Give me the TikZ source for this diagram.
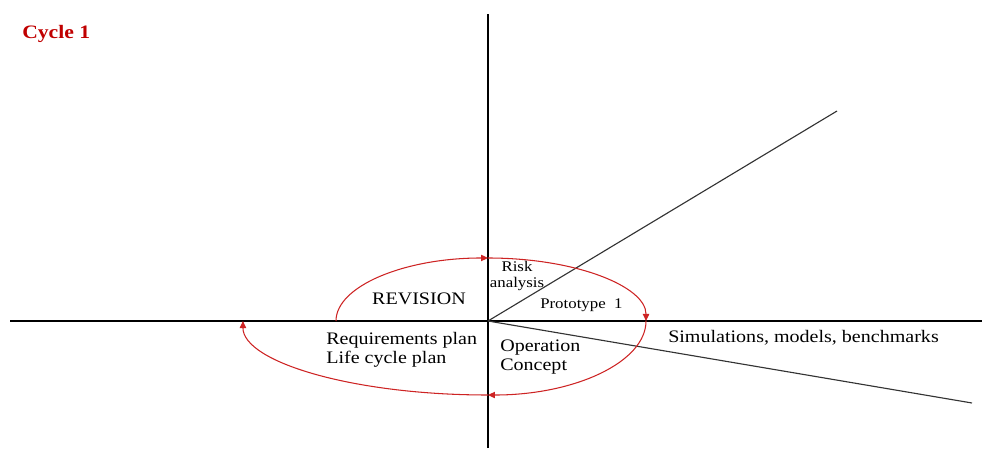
\documentclass[tikz,border=0pt]{standalone}
\usepackage{fontspec}
\setmainfont{Liberation Serif}[FakeStretch=1.14]
\usepackage{xcolor}
\definecolor{cyclered}{RGB}{192, 0, 0}
\definecolor{spiralred}{RGB}{205, 35, 35}
\usetikzlibrary{positioning,calc,arrows.meta}

\tikzset{
	axis/.style={line width=0.8pt, black},
	ray/.style={line width=0.8pt, black!80},
	spiral/.style={line width=0.75pt, spiralred, -{Triangle[length=5pt,width=4.5pt]}},
	bigtext/.style={inner sep=0pt, font=\fontsize{12.5}{13.5}\selectfont},
	smalltext/.style={inner sep=0pt, font=\fontsize{10.5}{11.5}\selectfont}
}

\begin{document}
\begin{tikzpicture}[x=0.025cm, y=0.025cm]
				\useasboundingbox (0,0) rectangle (982,449);
				% axes and rays
				\coordinate (O) at (488,128);
				\coordinate (west) at (10,128);
				\coordinate (east) at (982,128);
				\coordinate (north) at (488,435);
				\coordinate (south) at (488,1);
				\coordinate (rayup) at (837,338);
				\coordinate (raydown) at (972,46);
				\draw [axis] (west) -- (east);
				\draw [axis] (south) -- (north);
				\draw [ray] (O) -- (rayup);
				\draw [ray] (O) -- (raydown);
				% spiral
				\coordinate (start) at (336,128);
				\coordinate (top) at (488,191);
				\coordinate (right) at (646,128);
				\coordinate (bottom) at (488,54);
				\coordinate (left) at (243,128);
				\draw [spiral] (start) arc[start angle=180, end angle=90, x radius=3.8cm, y radius=1.575cm];
				\draw [spiral] (top) arc[start angle=90, end angle=0, x radius=3.95cm, y radius=1.575cm];
				\draw [spiral] (right) arc[start angle=0, end angle=-90, x radius=3.95cm, y radius=1.85cm];
				\draw [spiral] (bottom) arc[start angle=270, end angle=180, x radius=6.125cm, y radius=1.85cm];
				% labels
				\node[anchor=west, text=cyclered, inner sep=0pt, font=\fontsize{13.5}{15}\selectfont\bfseries] (title) at (22,415) {Cycle 1};
				\node[bigtext] (revision) at (419,150) {REVISION};
				\node[smalltext, align=center] (risk) at (517,173) {Risk\\analysis};
				\node[smalltext, anchor=west] (proto) at (540,144) {Prototype\ \ 1};
				\node[bigtext, anchor=west, align=left] (plans) at (326,99) {Requirements plan\\Life cycle plan};
				\node[bigtext, anchor=west, align=left] (concept) at (500,92) {Operation\\Concept};
				\node[bigtext, anchor=west] (sims) at (668,111) {Simulations, models, benchmarks};
			\end{tikzpicture}
\end{document}
